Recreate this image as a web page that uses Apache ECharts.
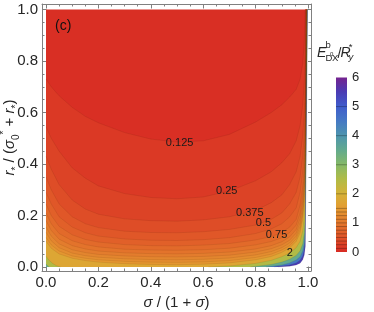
<!DOCTYPE html>
<html><head><meta charset="utf-8">
<script src="https://cdn.jsdelivr.net/npm/echarts@6/dist/echarts.min.js"></script>
<style>html,body{margin:0;padding:0;background:#fff}#c{width:374px;height:312px}</style>
</head><body><div id="c"></div>
<script>
// ---- tick labels ----
var xMajorTicks = [0, 0.2, 0.4, 0.6, 0.8, 1.0];
var yMajorTicks = [0, 0.2, 0.4, 0.6, 0.8, 1.0];
var minorTicks = [0.05,0.1,0.15,0.25,0.3,0.35,0.45,0.5,0.55,0.65,0.7,0.75,0.85,0.9,0.95];
var barTicks = [0, 1, 2, 3, 4, 5, 6];

// ---- contour levels (values of E/R) ----
var levels = [0.125,0.25,0.375,0.5,0.625,0.75,0.875,1,1.125,1.25,1.375,1.5,2,3,4,5,6];

// ---- contour lines: [x, y] ----
var c0125 = [[[0,0.73],[0.02,0.70],[0.05,0.665],[0.1,0.62],[0.15,0.585],[0.2,0.56],[0.3,0.522],[0.4,0.497],[0.5,0.485],[0.6,0.49],[0.7,0.515],[0.8,0.563],[0.86,0.6],[0.9,0.63],[0.93,0.66],[0.955,0.69],[0.97,0.73],[0.98,0.79],[0.985,0.86],[0.988,0.94],[0.989,1]]];
var c0250 = [[[0,0.545],[0.02,0.5],[0.05,0.45],[0.1,0.385],[0.15,0.345],[0.2,0.315],[0.3,0.285],[0.4,0.27],[0.5,0.265],[0.6,0.272],[0.7,0.295],[0.8,0.335],[0.86,0.37],[0.9,0.405],[0.93,0.44],[0.955,0.49],[0.97,0.55],[0.98,0.63],[0.986,0.72],[0.989,0.84],[0.991,1]]];
var c0375 = [[[0,0.43],[0.02,0.38],[0.05,0.32],[0.1,0.26],[0.15,0.225],[0.2,0.205],[0.3,0.187],[0.4,0.18],[0.5,0.178],[0.6,0.183],[0.7,0.195],[0.8,0.22],[0.86,0.25],[0.9,0.28],[0.93,0.32],[0.955,0.37],[0.97,0.43],[0.98,0.51],[0.986,0.6],[0.99,0.73],[0.992,1]]];
var c0500 = [[[0,0.35],[0.02,0.3],[0.05,0.245],[0.1,0.195],[0.15,0.168],[0.2,0.153],[0.3,0.139],[0.4,0.134],[0.5,0.133],[0.6,0.137],[0.7,0.146],[0.8,0.163],[0.86,0.185],[0.9,0.21],[0.93,0.245],[0.955,0.29],[0.97,0.35],[0.98,0.43],[0.986,0.52],[0.99,0.65],[0.993,1]]];
var c0625 = [[[0,0.29],[0.02,0.245],[0.05,0.195],[0.1,0.155],[0.15,0.133],[0.2,0.12],[0.3,0.109],[0.4,0.104],[0.5,0.103],[0.6,0.106],[0.7,0.114],[0.8,0.13],[0.86,0.148],[0.9,0.168],[0.93,0.195],[0.955,0.23],[0.97,0.29],[0.98,0.37],[0.986,0.46],[0.99,0.59],[0.993,1]]];
var c0750 = [[[0,0.245],[0.02,0.2],[0.05,0.158],[0.1,0.125],[0.15,0.107],[0.2,0.097],[0.3,0.087],[0.4,0.083],[0.5,0.082],[0.6,0.085],[0.7,0.091],[0.8,0.105],[0.86,0.118],[0.9,0.134],[0.93,0.155],[0.955,0.185],[0.97,0.24],[0.98,0.31],[0.986,0.41],[0.99,0.54],[0.994,1]]];
var c0875 = [[[0,0.21],[0.02,0.168],[0.05,0.13],[0.1,0.102],[0.15,0.087],[0.2,0.078],[0.3,0.069],[0.4,0.066],[0.5,0.065],[0.6,0.067],[0.7,0.073],[0.8,0.086],[0.86,0.099],[0.9,0.114],[0.93,0.134],[0.955,0.163],[0.97,0.21],[0.98,0.28],[0.986,0.37],[0.99,0.5],[0.994,1]]];
var c1000 = [[[0,0.18],[0.02,0.142],[0.05,0.108],[0.1,0.083],[0.15,0.07],[0.2,0.062],[0.3,0.055],[0.4,0.052],[0.5,0.051],[0.6,0.053],[0.7,0.058],[0.8,0.07],[0.86,0.083],[0.9,0.098],[0.93,0.117],[0.955,0.146],[0.97,0.19],[0.98,0.255],[0.986,0.34],[0.99,0.46],[0.995,1]]];
var c1125 = [[[0,0.155],[0.02,0.12],[0.05,0.09],[0.1,0.067],[0.15,0.056],[0.2,0.049],[0.3,0.043],[0.4,0.04],[0.5,0.039],[0.6,0.041],[0.7,0.046],[0.8,0.058],[0.86,0.071],[0.9,0.086],[0.93,0.104],[0.955,0.132],[0.97,0.173],[0.98,0.235],[0.986,0.315],[0.99,0.43],[0.995,1]]];
var c1250 = [[[0,0.135],[0.02,0.102],[0.05,0.075],[0.1,0.054],[0.15,0.044],[0.2,0.038],[0.3,0.032],[0.4,0.029],[0.5,0.028],[0.6,0.03],[0.7,0.035],[0.8,0.047],[0.86,0.06],[0.9,0.075],[0.93,0.093],[0.955,0.12],[0.97,0.158],[0.98,0.215],[0.986,0.295],[0.99,0.41],[0.996,1]]];
var c1375 = [[[0,0.115],[0.02,0.086],[0.05,0.062],[0.1,0.043],[0.15,0.034],[0.2,0.028],[0.3,0.022],[0.4,0.019],[0.5,0.018],[0.6,0.02],[0.7,0.025],[0.8,0.037],[0.86,0.05],[0.9,0.066],[0.93,0.083],[0.955,0.11],[0.97,0.145],[0.98,0.2],[0.986,0.275],[0.99,0.38],[0.996,1]]];
var c1500 = [[[0,0.1],[0.02,0.073],[0.05,0.051],[0.1,0.034],[0.15,0.025],[0.2,0.019],[0.3,0.013],[0.4,0.01],[0.5,0.009],[0.6,0.011],[0.7,0.016],[0.8,0.028],[0.86,0.041],[0.9,0.057],[0.93,0.074],[0.955,0.1],[0.97,0.133],[0.98,0.185],[0.986,0.255],[0.99,0.36],[0.996,1]]];
var c2000 = [[[0,0.042],[0.01,0.028],[0.025,0.014],[0.04,0.005],[0.055,0]],
             [[0.62,0],[0.7,0.004],[0.8,0.014],[0.86,0.026],[0.9,0.04],[0.93,0.054],[0.955,0.075],[0.97,0.1],[0.98,0.14],[0.986,0.2],[0.99,0.29],[0.997,1]]];
var c3000 = [[[0,0.012],[0.006,0.005],[0.012,0]],
             [[0.78,0],[0.86,0.01],[0.9,0.019],[0.93,0.03],[0.955,0.045],[0.97,0.063],[0.98,0.09],[0.986,0.135],[0.99,0.2],[0.997,1]]];
var c4000 = [[[0.84,0],[0.9,0.008],[0.93,0.016],[0.955,0.027],[0.97,0.04],[0.98,0.062],[0.986,0.095],[0.99,0.15],[0.998,1]]];
var c5000 = [[[0.87,0],[0.93,0.008],[0.955,0.016],[0.97,0.026],[0.98,0.043],[0.986,0.068],[0.99,0.11],[0.998,1]]];
var c6000 = [[[0.885,0],[0.93,0.003],[0.955,0.008],[0.97,0.015],[0.98,0.028],[0.986,0.047],[0.99,0.08],[0.998,1]]];
var contourLines = [c0125,c0250,c0375,c0500,c0625,c0750,c0875,c1000,c1125,c1250,c1375,c1500,c2000,c3000,c4000,c5000,c6000];

// ---- contour labels ----
var labelX = [0.51, 0.69, 0.778, 0.83, 0.88, 0.931];
var labelY = [0.482, 0.295, 0.21, 0.172, 0.123, 0.054];
var labelText = ['0.125','0.25','0.375','0.5','0.75','2'];

// ---- colour scale (value 0 .. 6) ----
var cmap = ['#d82a23','#df5227','#e3782c','#e49a31','#d5b137','#b0bb46','#86b967','#63aa8d','#4e95ae','#4579c4','#405dcc','#4a3cb4','#75238f'];

var FONT = '"Liberation Sans", Arial, sans-serif';
var FRAME = '#808080';
var TXT = '#262626';

var pieces = [{mid: levels[0] / 2, pts: null}];
levels.forEach(function (L, i) {
  var mid = (i + 1 < levels.length) ? (L + levels[i + 1]) / 2 : null;
  contourLines[i].forEach(function (p) { pieces.push({mid: mid, pts: p}); });
});

function perim(p) {
  var e = 1e-6, x = p[0], y = p[1];
  if (Math.abs(y - 1) < e) return x;
  if (Math.abs(x - 1) < e) return 2 - y;
  if (Math.abs(y) < e) return 3 - x;
  return 3 + y;
}
var corners = [[0,1],[1,1],[1,0],[0,0]];
function closeRegion(pts) {
  var out = pts.slice();
  var tS = perim(pts[0]), tE = perim(pts[pts.length - 1]);
  if (tS <= tE) tS += 4;
  for (var k = Math.floor(tE) + 1; k < tS; k++) out.push(corners[k % 4]);
  return out;
}

var mainAxis = function (pos, ticks, len, withLabel, withLine, isX) {
  return {
    type: 'value', gridIndex: 0, position: pos,
    min: isX ? -0.0153 : -0.0155, max: isX ? 1.0115 : 1.0214,
    splitLine: {show: false},
    axisLine: {show: withLine, onZero: false, lineStyle: {color: FRAME, width: 1}},
    axisTick: {show: true, inside: true, length: len, customValues: ticks, lineStyle: {color: FRAME, width: 1}},
    axisLabel: {show: withLabel, customValues: ticks, margin: 4, color: TXT, fontSize: 15, fontFamily: FONT,
      formatter: function (v) { return v.toFixed(1); }}
  };
};
var xAxes = [
  mainAxis('bottom', xMajorTicks, 4.5, true, true, true),
  mainAxis('bottom', minorTicks, 2.5, false, false, true),
  mainAxis('top', xMajorTicks, 4.5, false, true, true),
  mainAxis('top', minorTicks, 2.5, false, false, true),
  {type: 'value', gridIndex: 1, min: 0, max: 1, show: false}
];
xAxes[0].name = '{i|σ}{n| / (1 + }{i|σ}{n|)}';
xAxes[0].nameLocation = 'middle';
xAxes[0].nameGap = 21;
xAxes[0].nameMoveOverlap = false;
xAxes[0].nameTextStyle = {color: TXT, fontFamily: FONT, fontSize: 15,
  rich: {i: {fontStyle: 'italic', fontSize: 15, lineHeight: 22, fontFamily: FONT, color: TXT},
         n: {fontSize: 15, lineHeight: 22, fontFamily: FONT, color: TXT}}};
var yAxes = [
  mainAxis('left', yMajorTicks, 4.5, true, true, false),
  mainAxis('left', minorTicks, 2.5, false, false, false),
  mainAxis('right', yMajorTicks, 4.5, false, true, false),
  mainAxis('right', minorTicks, 2.5, false, false, false),
  {type: 'value', gridIndex: 1, min: 0, max: 6, interval: 1, position: 'right',
   splitLine: {show: false}, axisLine: {show: false}, axisTick: {show: false},
   axisLabel: {show: true, margin: 5, color: TXT, fontSize: 13, fontFamily: FONT}}
];
yAxes[0].name = '{i|r}{sb|*}{n| / (}{i|σ}{sb|0}{sp|*}{n| + }{i|r}{sb|*}{n|)}';
yAxes[0].nameLocation = 'middle';
yAxes[0].nameRotate = 90;
yAxes[0].nameGap = 21;
yAxes[0].nameMoveOverlap = false;
yAxes[0].nameTextStyle = {color: TXT, fontFamily: FONT, fontSize: 15,
  rich: {i: {fontStyle: 'italic', fontSize: 15, lineHeight: 22, fontFamily: FONT, color: TXT},
         n: {fontSize: 15, lineHeight: 22, fontFamily: FONT, color: TXT},
         sb: {fontSize: 10, lineHeight: 12, verticalAlign: 'bottom', fontFamily: FONT, color: TXT},
         sp: {fontSize: 10, lineHeight: 12, verticalAlign: 'top', fontFamily: FONT, color: TXT}}};

var gradStops = cmap.map(function (c, i) { return {offset: 1 - i / (cmap.length - 1), color: c}; }).reverse();

var option = {
  animation: false,
  textStyle: {fontFamily: FONT},
  grid: [
    {left: 42, top: 4, width: 269, height: 267, containLabel: false, outerBoundsMode: 'none'},
    {left: 336, top: 77.5, width: 11, height: 174.5, containLabel: false, outerBoundsMode: 'none'}
  ],
  xAxis: xAxes,
  yAxis: yAxes,
  visualMap: [{type: 'continuous', show: false, min: 0, max: 6, dimension: 0, seriesIndex: 0, inRange: {color: cmap}}],
  series: [
    {
      type: 'custom', coordinateSystem: 'cartesian2d', xAxisIndex: 0, yAxisIndex: 0,
      data: pieces.map(function (p, i) { return [p.mid == null ? 6 : p.mid, i]; }),
      renderItem: function (params, api) {
        var p = pieces[params.dataIndex];
        var pts = p.pts ? closeRegion(p.pts) : [[0,0],[0,1],[1,1],[1,0]];
        return {type: 'polygon', shape: {points: pts.map(function (q) { return api.coord(q); })},
          style: {fill: p.mid == null ? '#ffffff' : api.visual('color'), stroke: null}};
      }
    },
    {
      type: 'custom', coordinateSystem: 'cartesian2d', xAxisIndex: 0, yAxisIndex: 0,
      data: pieces.slice(1).map(function (p, i) { return [0, i]; }),
      renderItem: function (params, api) {
        var p = pieces[params.dataIndex + 1];
        return {type: 'polyline', shape: {points: p.pts.map(function (q) { return api.coord(q); })},
          style: {fill: null, stroke: 'rgba(40,10,0,0.14)', lineWidth: 0.6}};
      }
    },
    {
      type: 'custom', coordinateSystem: 'cartesian2d', xAxisIndex: 0, yAxisIndex: 0,
      data: labelX.map(function (x, i) { return [x, labelY[i]]; }),
      renderItem: function (params, api) {
        var pt = api.coord([api.value(0), api.value(1)]);
        return {type: 'text', x: pt[0], y: pt[1],
          style: {text: labelText[params.dataIndex], fill: '#1a1a1a', fontSize: 11, fontFamily: FONT, align: 'center', verticalAlign: 'middle'}};
      }
    },
    {
      type: 'custom', coordinateSystem: 'cartesian2d', xAxisIndex: 4, yAxisIndex: 4,
      data: [[0, 0]],
      renderItem: function (params, api) {
        var a = api.coord([0, 6]), b = api.coord([1, 0]);
        return {type: 'rect', shape: {x: a[0], y: a[1], width: b[0] - a[0], height: b[1] - a[1]},
          style: {fill: new echarts.graphic.LinearGradient(0, 0, 0, 1, gradStops)}};
      }
    },
    {
      type: 'custom', coordinateSystem: 'cartesian2d', xAxisIndex: 4, yAxisIndex: 4,
      data: levels.filter(function (L) { return L < 6; }).map(function (L) { return [0, L]; }),
      renderItem: function (params, api) {
        var a = api.coord([0, api.value(1)]), b = api.coord([1, api.value(1)]);
        return {type: 'line', shape: {x1: a[0], y1: a[1], x2: b[0], y2: b[1]},
          style: {stroke: 'rgba(0,0,0,0.35)', lineWidth: 0.8}};
      }
    }
  ],
  graphic: [
    {type: 'text', z: 100, x: 55, y: 26, style: {text: '(c)', font: '14px ' + FONT, fill: '#111', align: 'left', verticalAlign: 'middle'}},
    {type: 'text', z: 100, x: 317, y: 53.6, style: {text: 'E', font: 'italic 14px ' + FONT, fill: TXT, align: 'left', verticalAlign: 'middle'}},
    {type: 'text', z: 100, x: 325.6, y: 45.7, style: {text: 'b', font: '9.5px ' + FONT, fill: TXT, align: 'left', verticalAlign: 'middle'}},
    {type: 'text', z: 100, x: 325.6, y: 58.4, style: {text: 'D', font: '9.5px ' + FONT, fill: TXT, align: 'left', verticalAlign: 'middle'}},
    {type: 'text', z: 100, x: 330.0, y: 53.9, style: {text: '0', font: '6px ' + FONT, fill: TXT, align: 'left', verticalAlign: 'middle'}},
    {type: 'text', z: 100, x: 332.0, y: 58.4, style: {text: 'X', font: '9.5px ' + FONT, fill: TXT, align: 'left', verticalAlign: 'middle'}},
    {type: 'text', z: 100, x: 337.6, y: 54, style: {text: '/', font: '14px ' + FONT, fill: TXT, align: 'left', verticalAlign: 'middle'}},
    {type: 'text', z: 100, x: 340.6, y: 53.6, style: {text: 'R', font: 'italic 14px ' + FONT, fill: TXT, align: 'left', verticalAlign: 'middle'}},
    {type: 'text', z: 100, x: 348.8, y: 47.5, style: {text: '*', font: '9.5px ' + FONT, fill: TXT, align: 'left', verticalAlign: 'middle'}},
    {type: 'text', z: 100, x: 348.6, y: 57.2, style: {text: 'y', font: 'italic 9.5px ' + FONT, fill: TXT, align: 'left', verticalAlign: 'middle'}}
  ]
};
var chart = echarts.init(document.getElementById('c'));
chart.setOption(option);
</script>
</body></html>
